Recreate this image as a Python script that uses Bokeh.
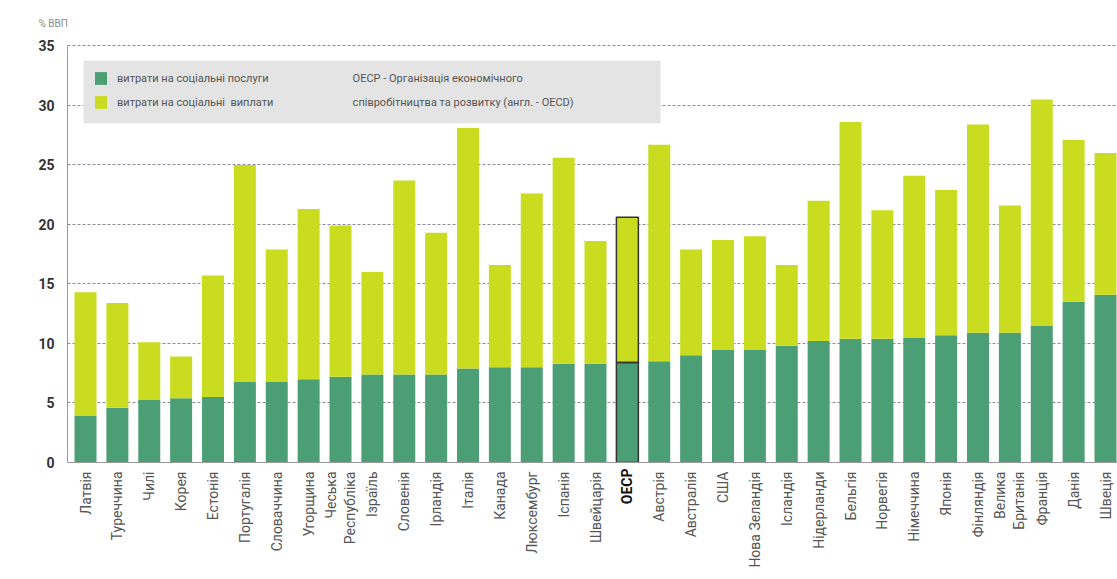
import math
from bokeh.plotting import figure
from bokeh.models import (Range1d, FixedTicker, Legend, LegendItem, Label,
                          BoxAnnotation, ColumnDataSource, LinearAxis)
from bokeh.embed import file_html
from bokeh.resources import INLINE

countries = ["Латвія", "Туреччина", "Чилі", "Корея", "Естонія", "Португалія",
             "Словаччина", "Угорщина", "Чеська\nРеспубліка", "Ізраїль", "Словенія",
             "Ірландія", "Італія", "Канада", "Люксембург", "Іспанія", "Швейцарія",
             "ОЕСР", "Австрія", "Австралія", "США", "Нова Зеландія", "Ісландія",
             "Нідерланди", "Бельгія", "Норвегія", "Німеччина", "Японія", "Фінляндія",
             "Велика\nБританія", "Франція", "Данія", "Швеція"]
services = [3.9, 4.6, 5.3, 5.4, 5.5, 6.8, 6.8, 7.0, 7.2, 7.4, 7.4,
            7.4, 7.9, 8.0, 8.0, 8.3, 8.3, 8.4, 8.5, 9.0, 9.5, 9.5,
            9.8, 10.2, 10.4, 10.4, 10.5, 10.7, 10.9, 10.9, 11.5, 13.5, 14.1]
payments = [10.4, 8.8, 4.8, 3.5, 10.2, 18.2, 11.1, 14.3, 12.7, 8.6, 16.3,
            11.9, 20.2, 8.6, 14.6, 17.3, 10.3, 12.2, 18.2, 8.9, 9.2, 9.5,
            6.8, 11.8, 18.2, 10.8, 13.6, 12.2, 17.5, 10.7, 19.0, 13.6, 11.9]
y_ticks = [0, 5, 10, 15, 20, 25, 30, 35]
series_labels = ["витрати на соціальні послуги", "витрати на соціальні  виплати"]
note_lines = ["ОЕСР - Організація економічного",
              "співробітництва та розвитку (англ. - OECD)"]
unit_label = "% ВВП"
highlight = "ОЕСР"

GREEN = "#4c9e74"
YELLOW = "#c9dc1f"
FONT = "Roboto"

xs = list(range(len(countries)))
hi = countries.index(highlight)
source = ColumnDataSource(dict(x=xs, services=services, payments=payments))

p = figure(width=1117, height=579, output_backend="svg", toolbar_location=None,
           x_range=Range1d(-0.565, 32.376), y_range=Range1d(0, 35.2),
           x_axis_location=None,
           min_border_left=67, min_border_top=40, min_border_right=0,
           min_border_bottom=117)
p.outline_line_color = None
p.background_fill_color = "white"

# unit label as title (top-left)
p.title.text = unit_label
p.title.align = "left"
p.title.offset = -29
p.title.standoff = 30
p.title.text_font = FONT
p.title.text_font_size = "10px"
p.title.text_font_style = "normal"
p.title.text_color = "#8a8a8a"

renderers = p.vbar_stack(["services", "payments"], x="x", width=0.69,
                         fill_color=[GREEN, YELLOW], line_color=None, source=source)

hsrc = ColumnDataSource(dict(x=[xs[hi]], s=[services[hi]],
                             t=[services[hi] + payments[hi]]))
p.vbar(x="x", bottom=0, top="s", width=0.69, source=hsrc, fill_alpha=0,
       line_color="#333333", line_width=1.5)
p.vbar(x="x", bottom="s", top="t", width=0.69, source=hsrc, fill_alpha=0,
       line_color="#333333", line_width=1.5)

# y axis
p.yaxis.ticker = FixedTicker(ticks=y_ticks)
p.yaxis.bounds = (0, 35)
p.yaxis.major_label_text_font = FONT
p.yaxis.major_label_text_font_style = "bold"
p.yaxis.major_label_text_font_size = "14px"
p.yaxis.major_label_text_color = "#333333"
p.yaxis.major_tick_line_color = None
p.yaxis.minor_tick_line_color = None
p.yaxis.axis_line_color = "#999999"
p.yaxis.major_label_standoff = 7

# x axes: first (nearest frame) carries the bold highlighted label,
# second carries the other country labels, pulled up by a negative standoff
ax_hi = LinearAxis(ticker=FixedTicker(ticks=[xs[hi]]),
                   major_label_overrides={xs[hi]: highlight},
                   major_label_orientation=math.pi / 2,
                   major_label_text_font=FONT, major_label_text_font_size="14px",
                   major_label_text_font_style="bold",
                   major_label_text_color="#111111",
                   major_tick_line_color=None, minor_tick_line_color=None,
                   major_tick_out=0, major_tick_in=0, minor_tick_out=0,
                   axis_line_color="#999999", major_label_standoff=6)
others = [i for i in xs if i != hi]
ax_all = LinearAxis(ticker=FixedTicker(ticks=others),
                    major_label_overrides={i: countries[i] for i in others},
                    major_label_orientation=math.pi / 2,
                    major_label_text_font=FONT, major_label_text_font_size="14px",
                    major_label_text_color="#555555",
                    major_tick_line_color=None, minor_tick_line_color=None,
                    major_tick_out=0, major_tick_in=0, minor_tick_out=0,
                    axis_line_color=None, major_label_standoff=-36)
p.add_layout(ax_hi, "below")
p.add_layout(ax_all, "below")

p.xgrid.grid_line_color = None
p.ygrid.grid_line_color = "#8a8a9a"
p.ygrid.grid_line_dash = "3 2"
p.ygrid.grid_line_width = 1

# legend panel
box = BoxAnnotation(left=-0.06, right=18.04, bottom=28.5, top=33.75,
                    fill_color="#e4e4e4", fill_alpha=1, line_color=None)
p.add_layout(box)

legend = Legend(items=[LegendItem(label=series_labels[0], renderers=[renderers[0]]),
                       LegendItem(label=series_labels[1], renderers=[renderers[1]])],
                location="top_left", margin=26, padding=0, spacing=6,
                background_fill_alpha=0, border_line_color=None,
                label_text_font=FONT, label_text_font_size="11px",
                label_text_color="#555555", glyph_width=15, glyph_height=16,
                label_height=18, label_standoff=9)
p.add_layout(legend)

for txt, yy in zip(note_lines, [32.25, 30.25]):
    p.add_layout(Label(x=8.38, y=yy, text=txt, text_baseline="middle",
                       text_font=FONT, text_font_size="11px", text_color="#555555"))

open("out.html", "w").write(file_html(p, INLINE))
